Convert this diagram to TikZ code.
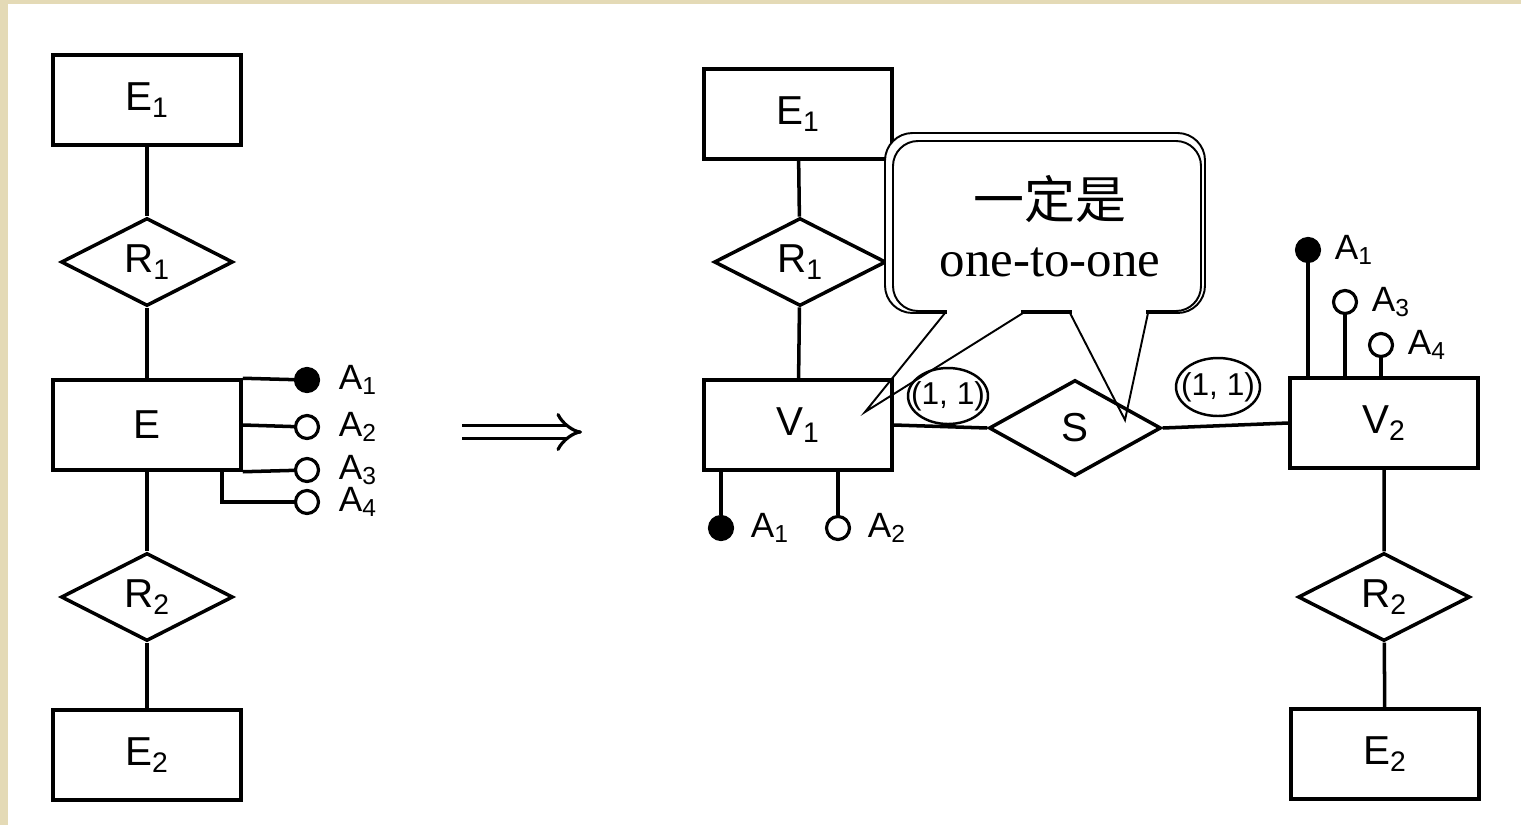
\documentclass[tikz,border=0pt]{standalone}
\usepackage{fontspec}
\setmainfont{Liberation Serif}
\setsansfont{Liberation Sans}
\newfontfamily\cjkfont{Noto Sans CJK SC}
\usepackage{tikz}
\usetikzlibrary{arrows.meta,positioning,shapes.geometric}
\definecolor{parch}{HTML}{E4DAB6}

\begin{document}
\begin{tikzpicture}[x=0.02cm,y=-0.02cm,line width=2pt,
entity/.style={draw,rectangle,fill=white,line width=2pt,minimum width=3.76cm,minimum height=1.8cm,inner sep=0pt,font=\sffamily\fontsize{23}{27}\selectfont},
relship/.style={draw,diamond,line width=2pt,minimum width=3.44cm,minimum height=1.76cm,inner sep=0pt,font=\sffamily\fontsize{23}{27}\selectfont},
attrfull/.style={draw,circle,fill=black,line width=1.8pt,minimum size=0.46cm,inner sep=0pt},
attrempty/.style={draw,circle,fill=white,line width=1.8pt,minimum size=0.46cm,inner sep=0pt},
attrlbl/.style={inner sep=0pt,font=\sffamily\fontsize{20}{24}\selectfont},
card/.style={inner sep=0pt,font=\sffamily\fontsize{18}{21}\selectfont},
bubble/.style={draw,line width=1.1pt,rounded corners=0.55cm},
implies/.style={double,double distance=0.2cm,line width=1.8pt,-{Implies}}]
\useasboundingbox (0,0) rectangle (1521,825);
\fill[parch] (0,0) rectangle (1521,825);
\fill[white] (8,4) rectangle (1521,825);

% left: entity E with its attributes
\node[entity] (e1) at (147,100) {E\textsubscript{1}};
\node[relship] (r1) at (147,262) {R\textsubscript{1}};
\node[entity] (ent) at (147,425) {E};
\node[relship] (r2) at (147,597) {R\textsubscript{2}};
\node[entity] (e2) at (147,755) {E\textsubscript{2}};
\draw (e1) -- (r1) -- (ent) -- (r2) -- (e2);

\node[attrfull] (la1) at (307,380) {};
\node[attrempty] (la2) at (307,427) {};
\node[attrempty] (la3) at (307,470) {};
\node[attrempty] (la4) at (307,502) {};
\draw (ent.north east) -- (la1);
\draw (ent.east) -- (la2);
\draw (ent.south east) -- (la3);
\draw ([xshift=-0.42cm]ent.south east) |- (la4);
\node[attrlbl,right=0.34cm of la1] (la1t) {A\textsubscript{1}};
\node[attrlbl,right=0.34cm of la2] (la2t) {A\textsubscript{2}};
\node[attrlbl,right=0.34cm of la3] (la3t) {A\textsubscript{3}};
\node[attrlbl,right=0.34cm of la4] (la4t) {A\textsubscript{4}};

% arrow
\coordinate (arrl) at (462,432);
\coordinate (arrr) at (582,432);
\draw[implies] (arrl) -- (arrr);

% right: E split into V1 -- S -- V2
\node[entity] (ve1) at (798,114) {E\textsubscript{1}};
\node[relship] (vr1) at (800,262) {R\textsubscript{1}};
\node[entity] (v1) at (798,425) {V\textsubscript{1}};
\node[relship,minimum height=1.92cm] (s) at (1075,428) {S};
\node[entity] (v2) at (1384,423) {V\textsubscript{2}};
\node[relship] (vr2) at (1384,597) {R\textsubscript{2}};
\node[entity] (ve2) at (1385,754) {E\textsubscript{2}};
\draw (ve1) -- (vr1) -- (v1);
\draw (v1.east) -- (s.west);
\draw (s.east) -- (v2.west);
\draw (v2) -- (vr2) -- (ve2);

\node[attrfull] (ra1) at (721,528) {};
\node[attrempty] (ra2) at (838,528) {};
\draw (ra1) -- (ra1 |- v1.south);
\draw (ra2) -- (ra2 |- v1.south);
\node[attrlbl,right=0.3cm of ra1] (ra1t) {A\textsubscript{1}};
\node[attrlbl,right=0.3cm of ra2] (ra2t) {A\textsubscript{2}};

\node[attrfull] (rb1) at (1308,250) {};
\node[attrempty] (rb3) at (1345,302) {};
\node[attrempty] (rb4) at (1381,345) {};
\draw (rb1) -- (rb1 |- v2.north);
\draw (rb3) -- (rb3 |- v2.north);
\draw (rb4) -- (rb4 |- v2.north);
\node[attrlbl,right=0.24cm of rb1] (rb1t) {A\textsubscript{1}};
\node[attrlbl,right=0.24cm of rb3] (rb3t) {A\textsubscript{3}};
\node[attrlbl,right=0.24cm of rb4] (rb4t) {A\textsubscript{4}};

% cardinalities
\node[card] (c1) at (948,396) {(1, 1)};
\node[card] (c2) at (1218,387) {(1, 1)};
\draw[line width=1.4pt] (c1.center) ellipse [x radius=0.8cm,y radius=0.56cm];
\draw[line width=1.4pt] (c2.center) ellipse [x radius=0.84cm,y radius=0.58cm];

% callout
\coordinate (tipl) at (865,412);
\coordinate (tipr) at (1125,420);
\draw[bubble,fill=white] (885,133) rectangle (1205,313);
\draw[bubble,rounded corners=0.5cm] (893,141) rectangle (1201,311);
\fill[white] (947,303) rectangle (1021,318);
\fill[white] (1072,303) rectangle (1146,318);
\draw[line width=1.1pt] (945,313) -- (tipl) -- (1023,313);
\draw[line width=1.1pt] (1070,313) -- (tipr) -- (1148,313);
\node[align=center,font=\fontsize{29}{33}\selectfont] (note) at (1050,226) {{\cjkfont 一定是}\\one-to-one};
\end{tikzpicture}
\end{document}
